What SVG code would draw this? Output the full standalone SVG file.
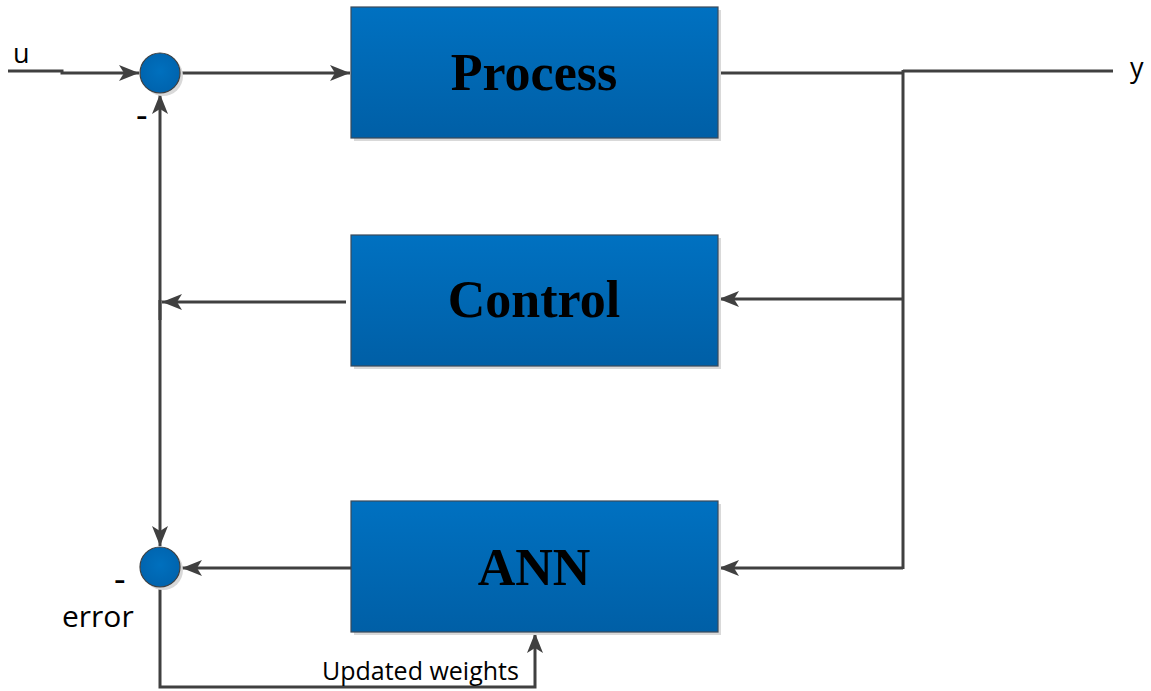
<svg xmlns="http://www.w3.org/2000/svg" width="1151" height="691" viewBox="0 0 1151 691">
  <defs>
    <linearGradient id="boxFill" x1="0" y1="0" x2="0" y2="1">
      <stop offset="0" stop-color="#0071C1"/>
      <stop offset="1" stop-color="#005FA6"/>
    </linearGradient>
    <radialGradient id="dotFill" cx="0.5" cy="0.45" r="0.6">
      <stop offset="0" stop-color="#0070BE"/>
      <stop offset="1" stop-color="#0062AC"/>
    </radialGradient>
    <marker id="arrow" viewBox="0 0 20 16" refX="20" refY="8" markerWidth="20" markerHeight="16" markerUnits="userSpaceOnUse" orient="auto">
      <path d="M0,0 L20,8 L0,16 L5,8 Z" fill="#404040"/>
    </marker>
  </defs>
  <style>
    .box { fill: url(#boxFill); stroke: #3A4A5A; stroke-width: 1.2; }
    .shadow { fill: #D9D9D9; }
    .dot { fill: url(#dotFill); stroke: #404040; stroke-width: 1.2; }
    .label { font-family: "Liberation Serif", "Times New Roman", serif; font-weight: bold; font-size: 52px; fill: #000; text-anchor: middle; }
    .txt { font-family: "Open Sans", "Liberation Sans", sans-serif; fill: #000; }
    .minus { font-family: "Open Sans", "Liberation Sans", sans-serif; font-size: 36px; fill: #000; }
    .wire { fill: none; stroke: #404040; stroke-width: 3; }
  </style>

  <rect width="1151" height="691" fill="#FFFFFF"/>

  <!-- connectors -->
  <g id="connectors">
    <polyline class="wire" points="8,71 62,71 62,73 139,73" marker-end="url(#arrow)"/>
    <polyline class="wire" points="180,73 350,73" marker-end="url(#arrow)"/>
    <polyline class="wire" points="718,73 903,73"/>
    <polyline class="wire" points="903,71 1113,71"/>
    <polyline class="wire" points="903,70 903,569"/>
    <polyline class="wire" points="903,299 719,299" marker-end="url(#arrow)"/>
    <polyline class="wire" points="903,568 719,568" marker-end="url(#arrow)"/>
    <polyline class="wire" points="346,302 162,302" marker-end="url(#arrow)"/>
    <polyline class="wire" points="160,320 160,94" marker-end="url(#arrow)"/>
    <polyline class="wire" points="160,300 160,546" marker-end="url(#arrow)"/>
    <polyline class="wire" points="351,568 182,568" marker-end="url(#arrow)"/>
    <polyline class="wire" points="160,587 160,687 535,687 535,633" marker-end="url(#arrow)"/>
  </g>

  <!-- summing junctions -->
  <g id="sum-top">
    <circle cx="163" cy="76" r="20" class="shadow"/>
    <circle cx="160" cy="73" r="20" class="dot"/>
  </g>
  <g id="sum-bottom">
    <circle cx="163" cy="570" r="20" class="shadow"/>
    <circle cx="160" cy="567" r="20" class="dot"/>
  </g>

  <!-- blocks -->
  <g id="process">
    <rect x="354" y="10" width="367" height="131" class="shadow"/>
    <rect x="351" y="7" width="367" height="131" class="box"/>
    <text x="534" y="90" class="label">Process</text>
  </g>
  <g id="control">
    <rect x="354" y="238" width="367" height="131" class="shadow"/>
    <rect x="351" y="235" width="367" height="131" class="box"/>
    <text x="534" y="317" class="label">Control</text>
  </g>
  <g id="ann">
    <rect x="354" y="504" width="367" height="131" class="shadow"/>
    <rect x="351" y="501" width="367" height="131" class="box"/>
    <text x="534" y="585" class="label">ANN</text>
  </g>

  <!-- signal labels -->
  <g id="labels">
    <text x="13" y="63" class="txt" font-size="27">u</text>
    <text x="1130" y="77" class="txt" font-size="27">y</text>
    <text x="136" y="128" class="minus">-</text>
    <text x="114" y="592" class="minus">-</text>
    <text x="62" y="627" class="txt" font-size="30">error</text>
    <text x="322" y="680" class="txt" font-size="25">Updated weights</text>
  </g>
</svg>
